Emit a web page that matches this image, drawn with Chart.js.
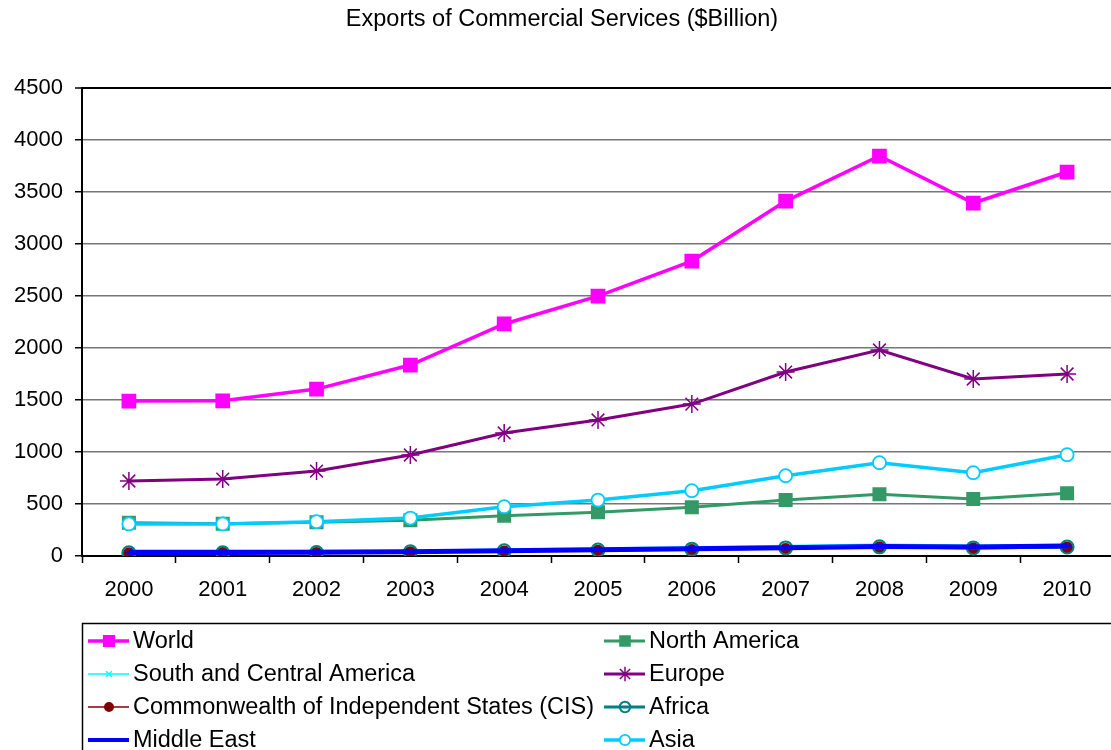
<!DOCTYPE html>
<html>
<head>
<meta charset="utf-8">
<script src="https://cdn.jsdelivr.net/npm/chart.js@4.4.1/dist/chart.umd.min.js"></script>
<style>
  html, body { margin: 0; padding: 0; background: #fff; overflow: hidden; }
  #wrap { width: 1125px; height: 762px; }
</style>
</head>
<body>
<div id="wrap"><canvas id="exports" width="1125" height="762"></canvas></div>
<script>
const years = ['2000', '2001', '2002', '2003', '2004', '2005', '2006', '2007', '2008', '2009', '2010'];

const world = [1490, 1492, 1605, 1836, 2231, 2498, 2836, 3413, 3846, 3394, 3692];
const north_america = [320, 311, 324, 343, 387, 421, 468, 538, 593, 548, 603];
const south_central_america = [58, 57, 52, 56, 65, 76, 87, 100, 113, 103, 111];
const europe = [721, 740, 817, 971, 1183, 1308, 1461, 1769, 1981, 1702, 1750];
const cis = [26, 28, 30, 35, 43, 50, 58, 68, 84, 74, 82];
const africa = [31, 31, 33, 40, 50, 58, 66, 78, 88, 78, 86];
const middle_east = [33, 34, 36, 42, 50, 60, 70, 80, 92, 87, 95];
const asia = [308, 308, 330, 365, 474, 538, 628, 772, 897, 801, 974];

const y_ticks = [0, 500, 1000, 1500, 2000, 2500, 3000, 3500, 4000, 4500];

const FONT = "'Liberation Sans', Arial, sans-serif";

function series(label, data, color, opts) {
  return Object.assign({
    label: label,
    data: data,
    borderColor: color,
    backgroundColor: color,
    pointBorderColor: color,
    pointBackgroundColor: color,
    borderWidth: 3,
    pointBorderWidth: 2,
    tension: 0,
    fill: false
  }, opts);
}

const datasets = [
  series('World', world, '#FF00FF', {borderWidth: 3.5, pointStyle: 'rect', pointRadius: 9}),
  series('North America', north_america, '#339966', {pointStyle: 'rect', pointRadius: 8.5}),
  series('South and Central America', south_central_america, '#00FFFF', {borderWidth: 1.5, pointStyle: 'crossRot', pointRadius: 5, pointBorderWidth: 1.5}),
  series('Europe', europe, '#800080', {pointStyle: 'star', pointRadius: 9, pointBorderWidth: 1.5}),
  series('Commonwealth of Independent States (CIS)', cis, '#800000', {borderWidth: 1.5, pointStyle: 'circle', pointRadius: 5}),
  series('Africa', africa, '#008080', {pointStyle: 'circle', pointRadius: 6.5, pointBackgroundColor: 'rgba(255,255,255,0)'}),
  series('Middle East', middle_east, '#0000FF', {borderWidth: 5, pointStyle: 'line', pointRadius: 4, pointBorderWidth: 3}),
  series('Asia', asia, '#00CCFF', {borderWidth: 3.5, pointStyle: 'circle', pointRadius: 6.5, pointBorderWidth: 1.8, pointBackgroundColor: '#FFFFFF'})
];
// later series drawn on top, like the original
datasets.forEach((d, i) => { d.order = -i; });

const titlePlugin = {
  id: 'plainTitle',
  afterDraw(chart) {
    const ctx = chart.ctx;
    ctx.save();
    ctx.font = '23.5px ' + FONT;
    ctx.fillStyle = '#000';
    ctx.textAlign = 'center';
    ctx.textBaseline = 'middle';
    ctx.fillText('Exports of Commercial Services ($Billion)', 562, 20);
    ctx.restore();
  }
};

const boxLegend = {
  id: 'boxLegend',
  afterDraw(chart) {
    const ctx = chart.ctx;
    const sets = chart.data.datasets;
    ctx.save();
    ctx.strokeStyle = '#000';
    ctx.lineWidth = 1.5;
    ctx.strokeRect(82.5, 623.5, 1040, 140);
    ctx.font = '23.5px ' + FONT;
    ctx.textBaseline = 'middle';
    ctx.textAlign = 'left';
    sets.forEach((ds, i) => {
      const col = i % 2, row = Math.floor(i / 2);
      const x0 = col === 0 ? 88 : 604;
      const y = 641 + row * 33;
      ctx.strokeStyle = ds.borderColor;
      ctx.lineWidth = Math.min(ds.borderWidth, 4);
      ctx.beginPath();
      ctx.moveTo(x0, y);
      ctx.lineTo(x0 + 41, y);
      ctx.stroke();
      ctx.fillStyle = ds.pointBackgroundColor;
      ctx.strokeStyle = ds.pointBorderColor;
      ctx.lineWidth = ds.pointBorderWidth;
      Chart.helpers.drawPoint(ctx, {
        pointStyle: ds.pointStyle,
        radius: ds.pointRadius * 0.8,
        rotation: 0,
        borderWidth: ds.pointBorderWidth
      }, x0 + 21, y);
      ctx.fillStyle = '#000';
      ctx.fillText(ds.label, x0 + 45, y + 1);
    });
    ctx.restore();
  }
};

new Chart(document.getElementById('exports').getContext('2d'), {
  type: 'line',
  data: { labels: years, datasets: datasets },
  plugins: [titlePlugin, boxLegend],
  options: {
    responsive: false,
    animation: false,
    layout: { padding: { top: 88, left: 0, right: 9, bottom: 162 } },
    plugins: {
      legend: { display: false },
      title: { display: false },
      tooltip: { enabled: false }
    },
    scales: {
      x: {
        type: 'category',
        offset: true,
        afterFit(scale) { scale.height = 44; },
        grid: { offset: true, drawOnChartArea: false, tickLength: 7, tickColor: '#000', tickWidth: 1.5 },
        border: { color: '#000', width: 2 },
        ticks: { color: '#000', padding: 14, font: { size: 22, family: FONT }, maxRotation: 0 }
      },
      y: {
        min: 0,
        max: 4500,
        afterFit(scale) { scale.width = 82; },
        afterBuildTicks(scale) { scale.ticks = y_ticks.map(v => ({ value: v })); },
        grid: {
          color: ctx => ctx.tick && ctx.tick.value === 4500 ? '#000' : '#777777',
          lineWidth: ctx => ctx.tick && ctx.tick.value === 4500 ? 2 : 1.5,
          tickLength: 7,
          tickColor: '#000',
          tickWidth: 1.5
        },
        border: { color: '#000', width: 2 },
        ticks: {
          color: '#000',
          padding: 12,
          font: { size: 22, family: FONT },
          callback: v => String(v)
        }
      }
    }
  }
});
</script>
</body>
</html>
